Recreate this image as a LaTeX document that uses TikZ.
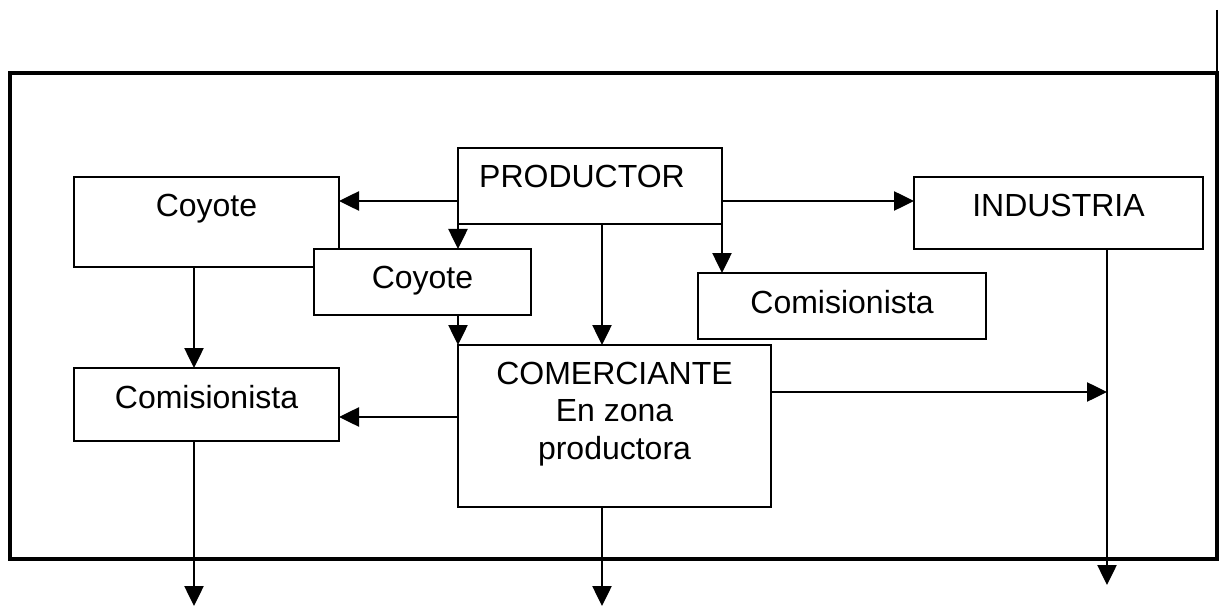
\documentclass[tikz,border=0pt]{standalone}
\usepackage{fontspec}
\setmainfont{Liberation Sans}
\usetikzlibrary{arrows.meta}

\tikzset{
  box/.style 2 args={draw, line width=1pt, fill=white, inner sep=0pt, outer sep=0pt,
    minimum width=#1*0.75pt, minimum height=#2*0.75pt},
  txt/.style={anchor=north, inner sep=0pt, yshift=-12.75pt, align=center,
    font=\fontsize{24}{28}\selectfont},
  arr/.style={line width=1pt, -{Triangle[length=15pt,width=14.5pt]}},
  frame/.style={line width=3.2pt},
}

\begin{document}
\begin{tikzpicture}[x=0.75pt,y=0.75pt,yscale=-1,xscale=1]
  \useasboundingbox (0,0) rectangle (1221,606);
  \draw[frame] (10,73) rectangle (1217,559);
  \draw[line width=1.5pt] (1217,10) -- (1217,73);

  \node[box={264}{76}] (productor) at (590,186) {};
  \node[txt, xshift=-6pt] at (productor.north) {PRODUCTOR};
  \node[box={265}{90}, label={[txt]north:Coyote}] (coyoteA) at (206.5,222) {};
  \node[box={217}{66}, label={[txt]north:Coyote}] (coyoteB) at (422.5,282) {};
  \node[box={288}{66}, label={[txt]north:Comisionista}] (comisR) at (842,306) {};
  \node[box={289}{72}, label={[txt]north:INDUSTRIA}] (industria) at (1058.5,213) {};
  \node[box={265}{73}, label={[txt]north:Comisionista}] (comisL) at (206.5,404.5) {};
  \node[box={313}{162}, label={[txt]north:COMERCIANTE\\En zona\\productora}] (comerciante) at (614.5,426) {};

  \coordinate (outL) at (194,606);
  \coordinate (outM) at (602,606);
  \coordinate (outR) at (1107,585);

  \draw[arr] ([yshift=11.25pt]productor.west) coordinate (pl) -- (pl -| coyoteA.east);
  \draw[arr] ([yshift=11.25pt]productor.east) coordinate (pr) -- (pr -| industria.west);
  \draw[arr] (productor.south west) -- (productor.south west |- coyoteB.north);
  \draw[arr] ([xshift=9pt]productor.south) coordinate (pm) -- (pm |- comerciante.north);
  \draw[arr] (productor.south east) -- (productor.south east |- comisR.north);
  \draw[arr] (comerciante.north west |- coyoteB.south) -- (comerciante.north west);
  \draw[arr] ([xshift=-9.375pt]coyoteA.south) coordinate (cy) -- (cy |- comisL.north);
  \draw[arr] ([yshift=-6.75pt]comerciante.west) coordinate (cw) -- (cw -| comisL.east);
  \draw[arr] ([yshift=-25.5pt]comerciante.east) coordinate (ce) -- (ce -| outR);
  \draw[arr] (outR |- industria.south) -- (outR);
  \draw[arr] (outL |- comisL.south) -- (outL);
  \draw[arr] (outM |- comerciante.south) -- (outM);
\end{tikzpicture}
\end{document}
